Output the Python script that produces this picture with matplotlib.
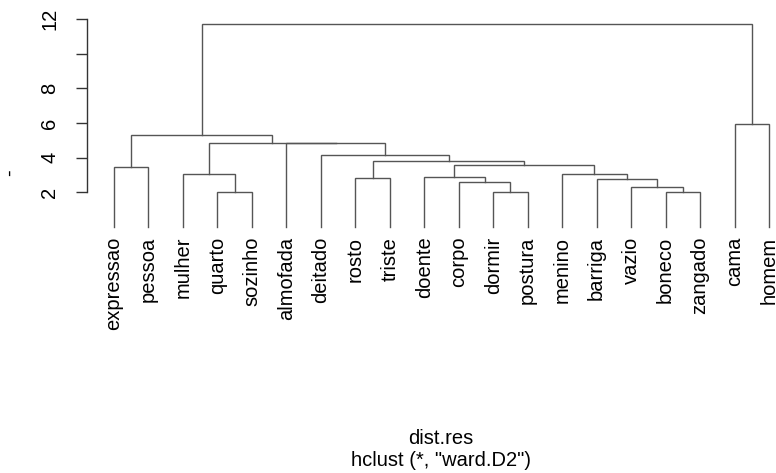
import matplotlib
matplotlib.use("Agg")
import matplotlib.pyplot as plt

# ---- data ----
leaves = ["expressao", "pessoa", "mulher", "quarto", "sozinho", "almofada",
          "deitado", "rosto", "triste", "doente", "corpo", "dormir", "postura",
          "menino", "barriga", "vazio", "boneco", "zangado", "cama", "homem"]

# merges: (left child, right child, height); children are leaf names or "m<k>" (1-based merge index)
merge_left = ["quarto", "dormir", "boneco", "vazio", "corpo", "barriga", "rosto",
              "doente", "mulher", "menino", "expressao", "m8", "m7", "deitado",
              "almofada", "m9", "m11", "cama", "m17"]
merge_right = ["sozinho", "postura", "zangado", "m3", "m2", "m4", "triste",
               "m5", "m1", "m6", "pessoa", "m10", "m12", "m13",
               "m14", "m15", "m16", "homem", "m18"]
merge_height = [2.00, 2.00, 2.00, 2.29, 2.58, 2.75, 2.81,
                2.90, 3.06, 3.08, 3.44, 3.59, 3.83, 4.14,
                4.82, 4.83, 5.29, 5.96, 11.71]

y_ticks = [2, 4, 6, 8, 10, 12]
y_ticklabels = ["2", "4", "6", "8", "", "12"]

# ---- figure ----
plt.rcParams['font.family'] = ['Liberation Sans', 'DejaVu Sans']
W, H = 776, 473
fig = plt.figure(figsize=(W / 100, H / 100), dpi=100)
ax = fig.add_axes([114 / W, (H - 227) / H, (769 - 114) / W, (227 - 19) / H])
ax.set_xlim(1, len(leaves))
ax.set_ylim(0, 12)

line_color = "#555555"
pos = {name: (i + 1, 0.0) for i, name in enumerate(leaves)}
for k, (l, r, h) in enumerate(zip(merge_left, merge_right, merge_height), start=1):
    xl, yl = pos[l]
    xr, yr = pos[r]
    ax.plot([xl, xl, xr, xr], [yl, h, h, yr], color=line_color, lw=1.0,
            clip_on=False, solid_joinstyle='miter')
    pos["m%d" % k] = ((xl + xr) / 2, h)

for s in ["top", "right", "bottom"]:
    ax.spines[s].set_visible(False)
ax.spines['left'].set_position(('outward', 19.2))
ax.spines['left'].set_bounds(2, 12)
ax.spines['left'].set_color("#333333")
ax.spines['left'].set_linewidth(1.0)
ax.set_yticks(y_ticks)
ax.set_yticklabels(y_ticklabels, rotation=90, va='center', fontsize=14.5)
ax.tick_params(axis='y', length=8.1, width=1.0, color="#333333", pad=12)

ax.set_xticks(range(1, len(leaves) + 1))
ax.set_xticklabels(leaves, rotation=90, ha='center', va='top', fontsize=14.5)
ax.tick_params(axis='x', length=0, pad=7)

fig.text(9 / W, 1 - 173 / H, "-", rotation=90, ha='center', va='center', fontsize=14.5)
fig.text(441 / W, 1 - 438 / H, "dist.res", ha='center', va='center', fontsize=14.5)
fig.text(441 / W, 1 - 460 / H, 'hclust (*, "ward.D2")', ha='center', va='center', fontsize=14.5)

fig.savefig("out.png", dpi=100)
